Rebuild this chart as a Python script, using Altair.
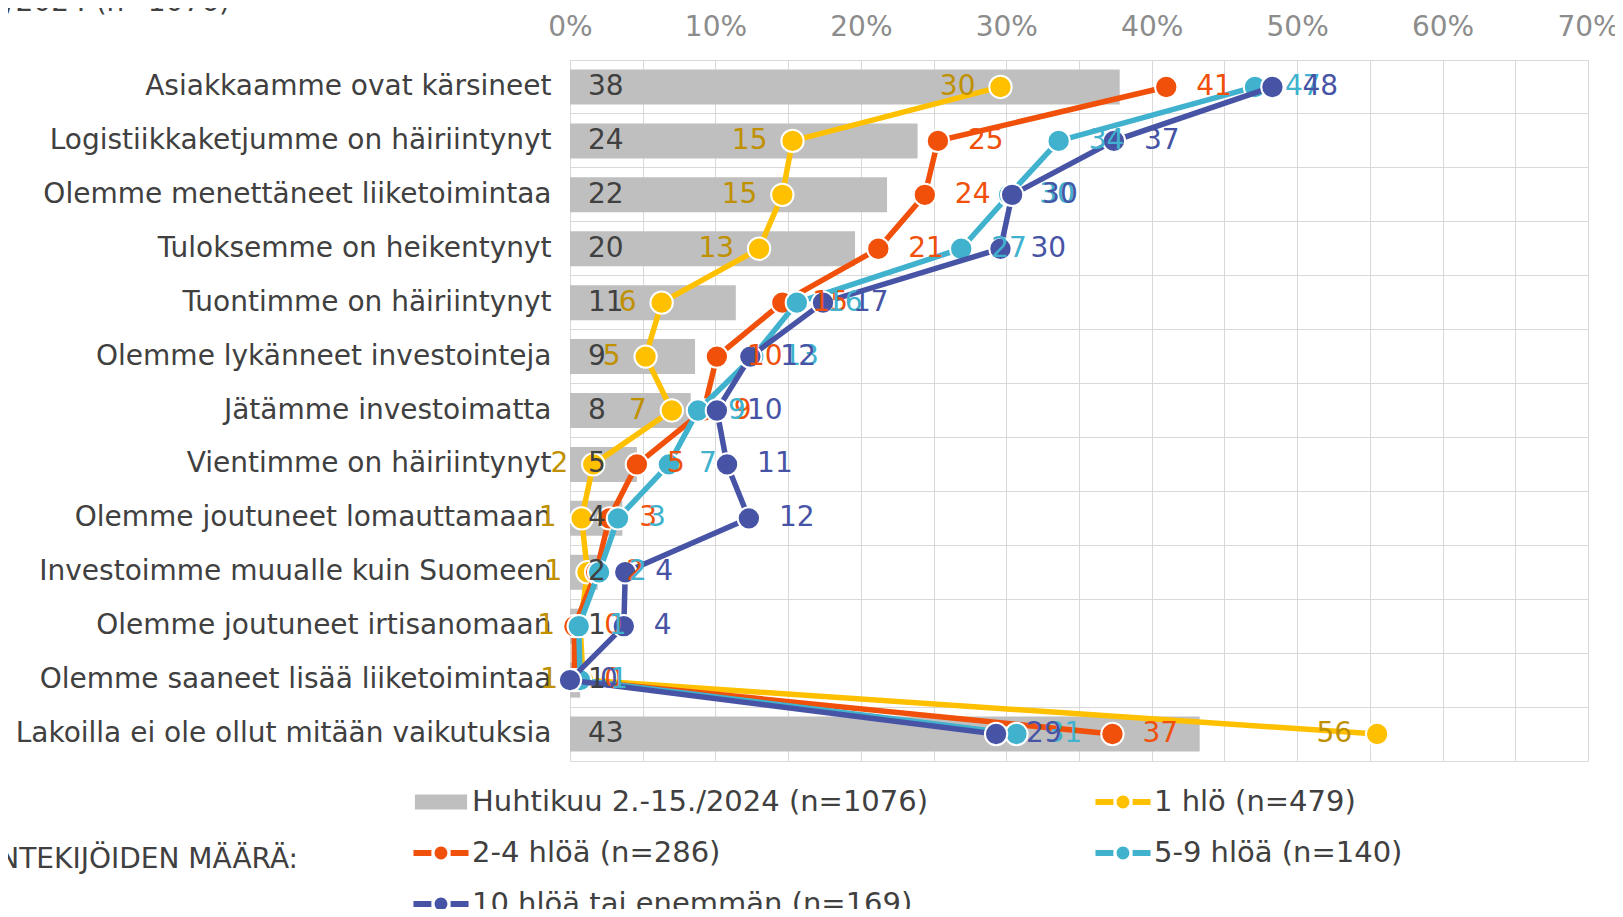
import altair as alt
import pandas as pd

# ---------------- data ----------------
categories = [
    "Asiakkaamme ovat kärsineet",
    "Logistiikkaketjumme on häiriintynyt",
    "Olemme menettäneet liiketoimintaa",
    "Tuloksemme on heikentynyt",
    "Tuontimme on häiriintynyt",
    "Olemme lykänneet investointeja",
    "Jätämme investoimatta",
    "Vientimme on häiriintynyt",
    "Olemme joutuneet lomauttamaan",
    "Investoimme muualle kuin Suomeen",
    "Olemme joutuneet irtisanomaan",
    "Olemme saaneet lisää liiketoimintaa",
    "Lakoilla ei ole ollut mitään vaikutuksia",
]

total_2024 = [37.8, 23.9, 21.8, 19.6, 11.4, 8.6, 8.3, 4.6, 3.6, 1.9, 0.6, 0.7, 43.3]
hlo_1 = [29.6, 15.3, 14.6, 13.0, 6.3, 5.2, 7.0, 1.6, 0.8, 1.2, 0.7, 0.9, 55.5]
hlo_2_4 = [41.0, 25.3, 24.4, 21.2, 14.6, 10.1, 9.2, 4.6, 2.7, 1.8, 0.3, 0.3, 37.3]
hlo_5_9 = [47.1, 33.6, 30.2, 26.9, 15.6, 12.6, 8.8, 6.8, 3.3, 2.0, 0.6, 0.7, 30.7]
hlo_10 = [48.3, 37.4, 30.4, 29.6, 17.4, 12.4, 10.1, 10.8, 12.3, 3.8, 3.7, 0.0, 29.3]

series_names = [
    "Huhtikuu 2.-15./2024 (n=1076)",
    "1 hlö (n=479)",
    "2-4 hlöä (n=286)",
    "5-9 hlöä (n=140)",
    "10 hlöä tai enemmän (n=169)",
]
series_colors = ["#BFBFBF", "#FFC000", "#F0500A", "#40B2CE", "#4754A6"]
label_colors = ["#404040", "#BF9000", "#F0500A", "#40B2CE", "#4754A6"]

legend_heading = "TYÖNTEKIJÖIDEN MÄÄRÄ:"
top_title = "Huhtikuu 2.-15./2024 (n=1076)"
x_ticks = list(range(0, 75, 5))

# ---------------- styling ----------------
FONT = "DejaVu Sans"
FS = 28
W, H = 1018, 701
GRID = "#D9D9D9"
TXT = "#404040"

SQUARE = "M-1.63,-0.47 L1.63,-0.47 L1.63,0.47 L-1.63,0.47 Z"
LINEMARK = ("M-1.72,-0.19 L-0.6,-0.19 L-0.6,0.19 L-1.72,0.19 Z "
            "M0.6,-0.19 L1.72,-0.19 L1.72,0.19 L0.6,0.19 Z "
            "M0.4,0 A0.4,0.4 0 1,1 -0.4,0 A0.4,0.4 0 1,1 0.4,0 Z")
legend_shapes = [SQUARE, LINEMARK, LINEMARK, LINEMARK, LINEMARK]

x_axis = alt.Axis(
    orient="top", values=x_ticks, title=None, ticks=False, domain=False,
    grid=True, gridColor=GRID, gridWidth=1,
    labelExpr="datum.value % 10 == 0 ? datum.value + '%' : ''",
    labelFont=FONT, labelFontSize=FS, labelColor="#8C8C8C", labelPadding=19,
    labelFlush=False,
)
x_scale = alt.Scale(domain=[0, 70], nice=False, zero=True)
y_axis = alt.Axis(
    title=None, ticks=False, domain=False, grid=True, gridColor=GRID,
    bandPosition=0, labelFont=FONT, labelFontSize=FS, labelColor=TXT,
    labelPadding=19, labelLimit=800,
)
y_scale = alt.Scale(paddingInner=0, paddingOuter=0)


def xq(field="value"):
    return alt.X(f"{field}:Q", scale=x_scale, axis=x_axis)


def yc():
    return alt.Y("cat:N", sort=categories, scale=y_scale, axis=y_axis)


bar_df = pd.DataFrame({"cat": categories, "value": total_2024, "idx": list(range(len(categories)))})

bars = alt.Chart(bar_df).mark_bar(color=series_colors[0], size=35).encode(x=xq(), y=yc())
bar_labels = alt.Chart(bar_df).mark_text(
    align="left", baseline="middle", dx=18, font=FONT, fontSize=FS, color=label_colors[0]
).encode(
    x=alt.XDatum(0, type="quantitative", scale=x_scale, axis=x_axis),
    y=yc(),
    text=alt.Text("value:Q", format=".0f"),
)

series_values = [hlo_1, hlo_2_4, hlo_5_9, hlo_10]
line_layers = []
label_layers = []
for k, vals in enumerate(series_values, start=1):
    sdf = pd.DataFrame({"cat": categories, "value": vals, "idx": list(range(len(categories)))})
    base = alt.Chart(sdf)
    line_layers.append(
        base.mark_line(color=series_colors[k], strokeWidth=5.5).encode(
            x=xq(), y=yc(), order=alt.Order("idx:Q")
        )
    )
    line_layers.append(
        base.mark_circle(size=500, color=series_colors[k], stroke="white",
                         strokeWidth=2, opacity=1).encode(x=xq(), y=yc())
    )
    if k == 1:
        tm = base.mark_text(align="right", baseline="middle", dx=-25, font=FONT,
                            fontSize=FS, color=label_colors[k])
    else:
        tm = base.mark_text(align="left", baseline="middle", dx=30, font=FONT,
                            fontSize=FS, color=label_colors[k])
    label_layers.append(
        tm.encode(x=xq(), y=yc(), text=alt.Text("value:Q", format=".0f"))
    )

# legend (driven by an empty layer carrying colour + shape scales)
leg_df = pd.DataFrame({"series": series_names, "value": [0] * 5, "cat": [categories[0]] * 5})
leg_def = alt.Legend(
    title=None, orient="none", legendX=-145, legendY=726, columns=2,
    direction="horizontal",
    columnPadding=166, rowPadding=20, symbolSize=1024, symbolStrokeWidth=0,
    labelFont=FONT, labelFontSize=29, labelColor=TXT, labelOffset=15,
    labelLimit=800, symbolOpacity=1,
)
legend_layer = alt.Chart(leg_df).transform_filter("false").mark_point(filled=True, opacity=1).encode(
    x=xq(), y=yc(),
    color=alt.Color("series:N", scale=alt.Scale(domain=series_names, range=series_colors), legend=leg_def),
    shape=alt.Shape("series:N", scale=alt.Scale(domain=series_names, range=legend_shapes), legend=leg_def),
)

heading = alt.Chart(pd.DataFrame({"t": [legend_heading]})).mark_text(
    align="right", baseline="middle", font=FONT, fontSize=FS, color=TXT
).encode(x=alt.value(-272), y=alt.value(800), text="t:N")

title_txt = alt.Chart(pd.DataFrame({"t": [top_title]})).mark_text(
    align="right", baseline="alphabetic", font=FONT, fontSize=FS, color=TXT
).encode(x=alt.value(-340), y=alt.value(-49), text="t:N")

chart = alt.layer(
    bars, *line_layers, bar_labels, *label_layers, legend_layer, heading, title_txt
).properties(
    width=W, height=H,
    autosize=alt.AutoSizeParams(type="none"),
    padding={"left": 562, "top": 52, "right": 27, "bottom": 148},
).configure_view(stroke=GRID, strokeWidth=1).configure(background="white")

chart.save("out.html", embed_options={"renderer": "svg", "actions": False})
